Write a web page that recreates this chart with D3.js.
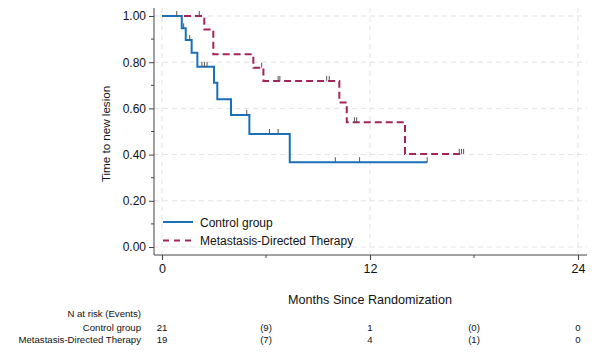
<!DOCTYPE html>
<html lang="en">
<head>
  <meta charset="UTF-8">
  <title>Time to new lesion</title>
  <style>
    body { margin: 0; background: white; }
    svg { display: block; font-family: "Liberation Sans", Arial, sans-serif; }
  </style>
</head>
<body>
  <div id="chart"></div>
  <script src="https://d3js.org/d3.v7.min.js"></script>
  <script>
    // step data: [month, survival after the drop]
    const controlSteps = [[1.14, 0.947], [1.37, 0.896], [1.71, 0.841], [2.04, 0.78], [3.0, 0.711],
      [3.19, 0.64], [3.98, 0.571], [5.04, 0.489], [7.37, 0.367]];
    const controlEnd = 15.3;
    const controlCensor = [1.25, 1.6, 2.3, 2.45, 2.6, 4.89, 6.2, 6.7, 10.0, 11.4, 15.3];

    const mdtSteps = [[2.44, 0.942], [2.96, 0.834], [5.27, 0.776], [5.85, 0.719],
      [10.23, 0.626], [10.66, 0.54], [14.02, 0.403]];
    const mdtEnd = 17.4;
    const mdtCensor = [0.85, 2.15, 5.75, 6.7, 6.8, 9.5, 9.65, 11.1, 11.23, 17.15, 17.28, 17.4];

    const riskMonths = [0, 6, 12, 18, 24];
    const riskControl = ["21", "(9)", "1", "(0)", "0"];
    const riskMdt = ["19", "(7)", "4", "(1)", "0"];

    const xTicks = [0, 12, 24];
    const xMinor = [6, 18];
    const yTicks = [0, 0.2, 0.4, 0.6, 0.8, 1.0];
    const yMinor = [0.1, 0.3, 0.5, 0.7, 0.9];

    const width = 600, height = 361;
    const blue = "#1a6fba", red = "#a3245a";

    const x = d3.scaleLinear().domain([0, 24]).range([162, 578]);
    const y = d3.scaleLinear().domain([0, 1]).range([247, 16]);
    const axisX = 154, axisY = 255;

    const svg = d3.select("#chart")
      .append("svg")
      .attr("width", width)
      .attr("height", height);

    // gridlines
    svg.append("g")
      .attr("stroke", "#e3e3e3")
      .attr("stroke-dasharray", "5,4")
      .selectAll("line")
      .data(yTicks)
      .join("line")
      .attr("x1", axisX).attr("x2", 587)
      .attr("y1", d => y(d)).attr("y2", d => y(d));

    svg.append("g")
      .attr("stroke", "#e3e3e3")
      .attr("stroke-dasharray", "5,4")
      .selectAll("line")
      .data(xTicks)
      .join("line")
      .attr("x1", d => x(d)).attr("x2", d => x(d))
      .attr("y1", 8).attr("y2", axisY);

    // y axis
    const yAxis = svg.append("g")
      .attr("transform", `translate(${axisX},0)`)
      .call(d3.axisLeft(y).tickValues(yTicks).tickFormat(d3.format(".2f")).tickSize(5).tickPadding(3));
    yAxis.select(".domain").attr("d", `M0,8V${axisY}`).attr("stroke", "#444");
    yAxis.selectAll(".tick line").attr("stroke", "#444");
    yAxis.selectAll("text").attr("font-size", 12).attr("font-family", null).attr("fill", "#111");
    yAxis.append("g")
      .selectAll("line")
      .data(yMinor)
      .join("line")
      .attr("x1", -3).attr("x2", 0)
      .attr("y1", d => y(d)).attr("y2", d => y(d))
      .attr("stroke", "#444");

    // x axis
    const xAxis = svg.append("g")
      .attr("transform", `translate(0,${axisY})`)
      .call(d3.axisBottom(x).tickValues(xTicks).tickSize(5).tickPadding(4));
    xAxis.select(".domain").attr("d", `M${axisX},0H587`).attr("stroke", "#444");
    xAxis.selectAll(".tick line").attr("stroke", "#444");
    xAxis.selectAll("text").attr("font-size", 12.5).attr("font-family", null).attr("fill", "#111");
    xAxis.append("g")
      .selectAll("line")
      .data(xMinor)
      .join("line")
      .attr("x1", d => x(d)).attr("x2", d => x(d))
      .attr("y1", 0).attr("y2", 3)
      .attr("stroke", "#444");

    // axis titles
    svg.append("text")
      .attr("transform", `translate(110,134) rotate(-90)`)
      .attr("text-anchor", "middle")
      .attr("font-size", 11.6)
      .attr("fill", "#111")
      .text("Time to new lesion");

    svg.append("text")
      .attr("x", 370).attr("y", 304)
      .attr("text-anchor", "middle")
      .attr("font-size", 12.6)
      .attr("fill", "#111")
      .text("Months Since Randomization");

    // KM curves
    function stepPoints(steps, end) {
      const pts = [[0, 1]];
      let s = 1;
      for (const [t, v] of steps) {
        pts.push([t, s]);
        pts.push([t, v]);
        s = v;
      }
      pts.push([end, s]);
      return pts;
    }
    function survAt(steps, t) {
      let s = 1;
      for (const [ts, v] of steps) if (ts <= t) s = v;
      return s;
    }
    const line = d3.line().x(d => x(d[0])).y(d => y(d[1]));

    svg.append("path")
      .datum(stepPoints(mdtSteps, mdtEnd))
      .attr("fill", "none")
      .attr("stroke", red)
      .attr("stroke-width", 2)
      .attr("stroke-dasharray", "7,4")
      .attr("d", line);

    svg.append("path")
      .datum(stepPoints(controlSteps, controlEnd))
      .attr("fill", "none")
      .attr("stroke", blue)
      .attr("stroke-width", 2)
      .attr("d", line);

    // censor ticks
    svg.append("g")
      .attr("stroke", "#555")
      .attr("stroke-width", 1)
      .selectAll("line")
      .data(controlCensor)
      .join("line")
      .attr("x1", d => x(d)).attr("x2", d => x(d))
      .attr("y1", d => y(survAt(controlSteps, d)) - 5)
      .attr("y2", d => y(survAt(controlSteps, d)));

    svg.append("g")
      .attr("stroke", "#555")
      .attr("stroke-width", 1)
      .selectAll("line")
      .data(mdtCensor)
      .join("line")
      .attr("x1", d => x(d)).attr("x2", d => x(d))
      .attr("y1", d => y(survAt(mdtSteps, d)) - 5)
      .attr("y2", d => y(survAt(mdtSteps, d)));

    // legend
    const legend = [
      { label: "Control group", color: blue, dash: null },
      { label: "Metastasis-Directed Therapy", color: red, dash: "6,5" }
    ];
    const lg = svg.append("g")
      .selectAll("g")
      .data(legend)
      .join("g")
      .attr("transform", (d, i) => `translate(163,${222 + i * 18.5})`);
    lg.append("line")
      .attr("x1", 0).attr("x2", 30)
      .attr("stroke", d => d.color)
      .attr("stroke-width", 2)
      .attr("stroke-dasharray", d => d.dash);
    lg.append("text")
      .attr("x", 37).attr("y", 4.5)
      .attr("font-size", 12)
      .attr("fill", "#111")
      .text(d => d.label);

    // number at risk table
    const rowLabels = ["N at risk (Events)", "Control group", "Metastasis-Directed Therapy"];
    const rowY = [317, 330.5, 342.5];
    svg.append("g")
      .attr("font-size", 9.6)
      .attr("text-anchor", "end")
      .attr("fill", "#111")
      .selectAll("text")
      .data(rowLabels)
      .join("text")
      .attr("x", 141)
      .attr("y", (d, i) => rowY[i])
      .text(d => d);

    [riskControl, riskMdt].forEach((row, r) => {
      svg.append("g")
        .attr("font-size", 9.6)
        .attr("text-anchor", "middle")
        .attr("fill", "#111")
        .selectAll("text")
        .data(row)
        .join("text")
        .attr("x", (d, i) => x(riskMonths[i]))
        .attr("y", rowY[r + 1])
        .text(d => d);
    });
  </script>
</body>
</html>
